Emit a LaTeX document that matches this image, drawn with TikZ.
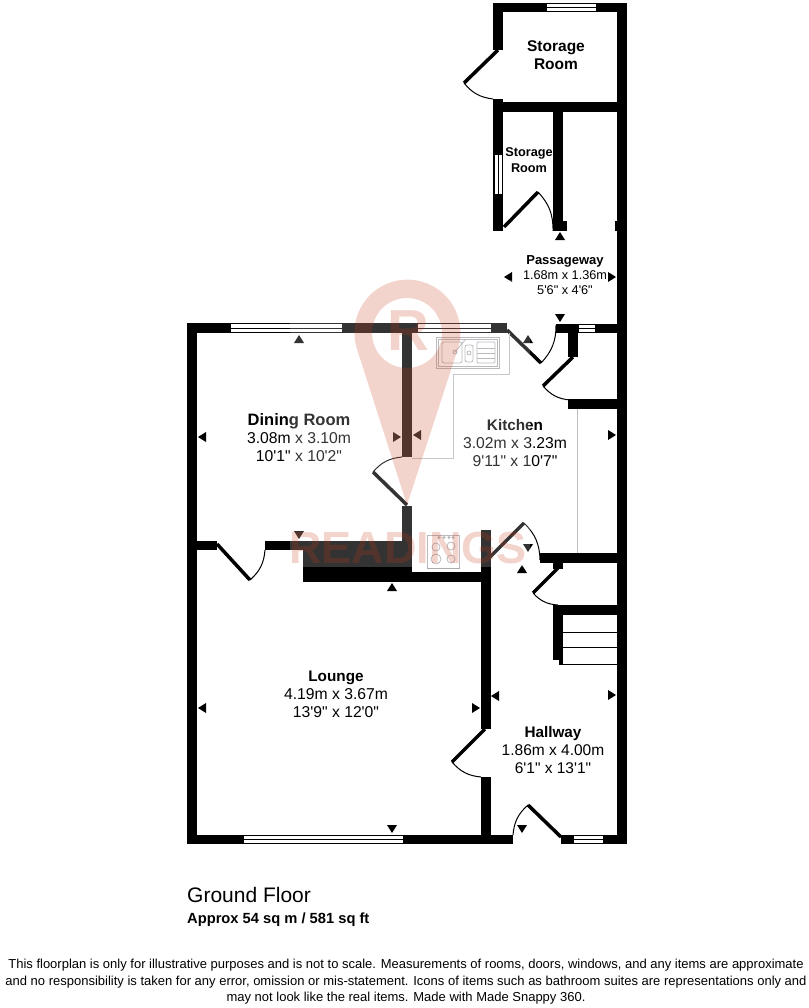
\documentclass[tikz,border=0pt]{standalone}
\usepackage{fontspec}
\newfontfamily\planfont{Liberation Sans}
\usepackage{xcolor}
\definecolor{readcol}{RGB}{200,60,25}
\definecolor{fitcol}{RGB}{170,170,175}
\tikzset{
  wall/.style={fill=black},
  leaf/.style={line width=3.5pt},
  swing/.style={line width=1pt},
  pane/.style={draw=black,fill=white,line width=1pt},
  fitting/.style={draw=fitcol,line width=.8pt},
  worktop/.style={draw=fitcol!80,line width=.8pt},
  roomlabel/.style 2 args={font=\planfont\fontsize{#1}{#2}\selectfont,align=center,inner sep=0pt},
}
\newcommand{\dimtip}[3]{\fill[shift={(#1,#2)},rotate=#3] (-5,4) -- (5,4) -- (0,-4) -- cycle;}
\newcommand{\roomname}[2]{{\fontsize{#1}{18}\selectfont\bfseries #2}}
\begin{document}
\begin{tikzpicture}[x=1pt,y=-1pt]
\useasboundingbox (0,0) rectangle (808,1008);
% outer walls
\fill[wall] (187,323) rectangle (197,844);
\fill[wall] (617,3) rectangle (627,844);
\fill[wall] (493,3) rectangle (627,12);
\fill[wall] (493,3) rectangle (503,50);
\fill[wall] (493,99) rectangle (503,231);
\fill[wall] (493,102) rectangle (627,112);
\fill[wall] (553,112) rectangle (563,231);
\fill[wall] (553,221) rectangle (567,231);
\fill[wall] (615,221) rectangle (617,231);
\fill[wall] (187,323) rectangle (507,333);
\fill[wall] (556,324) rectangle (627,333);
\fill[wall] (568,333) rectangle (578,357);
\fill[wall] (568,399) rectangle (627,409);
% inner walls
\fill[wall] (402,333) rectangle (412,457);
\fill[wall] (402,506) rectangle (412,572);
\fill[wall] (187,541) rectangle (217,550);
\fill[wall] (265,541) rectangle (412,550);
\fill[wall] (303,541) rectangle (412,582);
\fill[wall] (412,572) rectangle (491,582);
\fill[wall] (481,530) rectangle (491,729);
\fill[wall] (481,777) rectangle (491,844);
\fill[wall] (540,553) rectangle (627,563);
\fill[wall] (553,563) rectangle (563,569);
\fill[wall] (553,605) rectangle (627,615);
\fill[wall] (553,615) rectangle (563,660);
\fill[wall] (559,660) rectangle (563,665);
\fill[wall] (187,835) rectangle (513,844);
\fill[wall] (561,835) rectangle (627,844);
% windows
\draw[pane] (546,3.5) rectangle (596,11.5); \draw[line width=.6pt] (546,7.5) -- (596,7.5);
\draw[pane] (494,155) rectangle (502,195); \draw[line width=.6pt] (498,155) -- (498,195);
\draw[pane] (230,323.5) rectangle (342,332.5); \draw[line width=.6pt] (230,328) -- (342,328);
\draw[pane] (417,323.5) rectangle (491,332.5); \draw[line width=.6pt] (417,328) -- (491,328);
\draw[pane] (578,324.5) rectangle (595,332.5); \draw[line width=.6pt] (578,328.5) -- (595,328.5);
\draw[pane] (243,835.5) rectangle (403,843.5); \draw[line width=.6pt] (243,839.5) -- (403,839.5);
\draw[pane] (573,835.5) rectangle (603,843.5); \draw[line width=.6pt] (573,839.5) -- (603,839.5);
% doors
\draw[leaf] (498,50) -- (464,83); \draw[swing] (464,83) to[bend right=22] (493,99);
\draw[leaf] (504,227) -- (538,192); \draw[swing] (538,192) to[bend left=22] (553,231);
\draw[leaf] (507,330) -- (541,363); \draw[swing] (541,363) to[bend right=22] (556,325);
\draw[leaf] (573,357) -- (543,386); \draw[swing] (543,386) to[bend right=22] (570,400);
\draw[leaf] (407,505) -- (373,472); \draw[swing] (373,472) to[bend left=22] (402,457);
\draw[leaf] (217,544) -- (250,580); \draw[swing] (250,580) to[bend right=22] (265,550);
\draw[leaf] (489,558) -- (524,523); \draw[swing] (524,523) to[bend left=22] (540,560);
\draw[leaf] (558,568) -- (533,593); \draw[swing] (533,593) to[bend right=22] (558,605);
\draw[leaf] (485,729) -- (452,762); \draw[swing] (452,762) to[bend right=22] (481,777);
\draw[leaf] (561,837) -- (528,805); \draw[swing] (528,805) to[bend right=22] (513,835);
% stairs
\draw[line width=1pt] (563,632) -- (617,632);
\draw[line width=1pt] (563,647) -- (617,647);
\draw[line width=1pt] (559,664) -- (617,664);
% kitchen units
\draw[worktop] (509,333) -- (509,374) -- (453,374) -- (453,458) -- (412,458);
\draw[worktop] (577,409) -- (577,553);
\draw[fitting] (436,337) rectangle (499,368);
\draw[fitting] (438,339) rectangle (497,366);
\draw[fitting,rounded corners=2pt] (442,342) rectangle (462,363);
\draw[fitting,rounded corners=2pt] (465,345) rectangle (473,362);
\draw[fitting,rounded corners=1pt] (477,342) rectangle (495,363);
\draw[fitting] (477,348) -- (495,348);
\draw[fitting] (477,353) -- (495,353);
\draw[fitting] (477,358) -- (495,358);
\draw[fitting] (455,352) -- (465,340);
\draw[fitting] (455,352) circle (2pt);
\draw[fitting] (469,353) circle (2pt);
\draw[fitting] (427,535) rectangle (459,568);
\draw[fitting] (436,547) circle (4pt);
\draw[fitting] (451,546) circle (4pt);
\draw[fitting] (436,559) circle (5pt);
\draw[fitting] (451,559) circle (4pt);
\draw[fitting] (439,537.5) circle (1pt);
\draw[fitting] (444,537.5) circle (1pt);
\draw[fitting] (449,537.5) circle (1pt);
\draw[fitting] (453,537.5) circle (1pt);
% measure marks
\dimtip{508}{277}{90} \dimtip{612}{277}{-90} \dimtip{560}{236}{0} \dimtip{560}{318}{180}
\dimtip{299}{339}{0} \dimtip{202}{437}{90} \dimtip{397}{437}{-90} \dimtip{299}{535}{180}
\dimtip{417}{435}{90} \dimtip{612}{435}{-90} \dimtip{528}{339}{0} \dimtip{528}{548}{180}
\dimtip{392}{587}{0} \dimtip{202}{708}{90} \dimtip{476}{708}{-90} \dimtip{392}{829}{180}
\dimtip{522}{569}{0} \dimtip{495}{696}{90} \dimtip{612}{695}{-90} \dimtip{522}{829}{180}
% room labels
\node[roomlabel={15.5}{18}] (storetop) at (556,55) {\roomname{15.5}{Storage}\\\roomname{15.5}{Room}};
\node[roomlabel={12.7}{15.5}] (storelow) at (529,160) {\roomname{12.7}{Storage}\\\roomname{12.7}{Room}};
\node[roomlabel={12.7}{15}] (passage) at (565,275) {\roomname{13}{Passageway}\\1.68m x 1.36m\\5'6" x 4'6"};
\node[roomlabel={15.7}{18}] (dining) at (299,438) {\roomname{16.5}{Dining Room}\\3.08m x 3.10m\\10'1" x 10'2"};
\node[roomlabel={15.7}{18}] (kitchen) at (515,443) {\roomname{15.3}{Kitchen}\\3.02m x 3.23m\\9'11" x 10'7"};
\node[roomlabel={15.7}{18}] (lounge) at (336,694) {\roomname{15.3}{Lounge}\\4.19m x 3.67m\\13'9" x 12'0"};
\node[roomlabel={15.5}{18}] (hallway) at (553,750) {\roomname{15.3}{Hallway}\\1.86m x 4.00m\\6'1" x 13'1"};
% watermark
\fill[white,opacity=.2] (290,280) rectangle (530,567);
\fill[readcol,opacity=.22,even odd rule] (407,505) -- (357,349) arc[start angle=198,end angle=-18,radius=53pt] -- cycle (407,333) circle (35pt);
\node[text=readcol,text opacity=.22,font=\planfont\fontsize{58}{58}\selectfont\bfseries,inner sep=0pt] (pinletter) at (408,331) {R};
\node[text=readcol,text opacity=.22,font=\planfont\fontsize{45}{45}\selectfont\bfseries,inner sep=0pt] (brand) at (408,548) {READINGS};
% footer
\node[font=\planfont\fontsize{21}{24}\selectfont,anchor=west,inner sep=0pt] (floorname) at (187,895) {Ground Floor};
\node[font=\planfont\fontsize{14.7}{17}\selectfont\bfseries,anchor=west,inner sep=0pt] (floorarea) at (187,920) {Approx 54 sq m / 581 sq ft};
\node[font=\planfont\fontsize{13}{16.5}\selectfont,align=center,inner sep=0pt] (disclaimer) at (406,982) {This floorplan is only for illustrative purposes and is not to scale. Measurements of rooms, doors, windows, and any items are approximate\\and no responsibility is taken for any error, omission or mis-statement. Icons of items such as bathroom suites are representations only and\\may not look like the real items. Made with Made Snappy 360.};
\end{tikzpicture}
\end{document}
